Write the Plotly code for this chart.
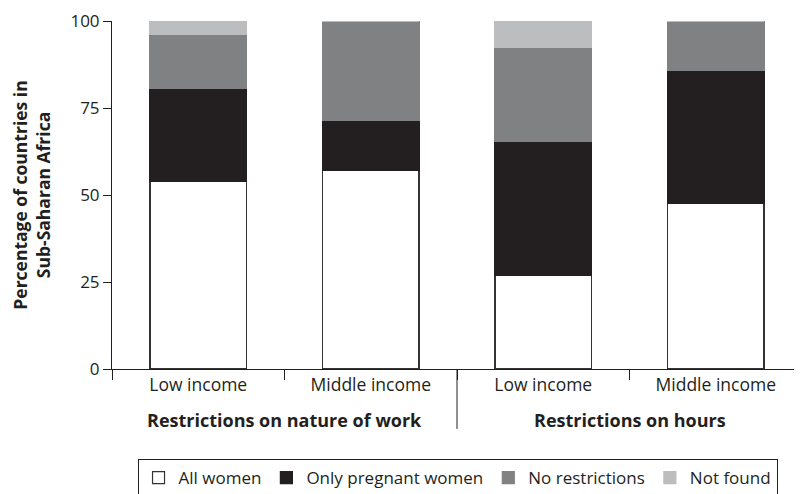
import plotly.graph_objects as go

categories = ["Low income", "Middle income", "Low income ", "Middle income "]
tick_labels = ["Low income", "Middle income", "Low income", "Middle income"]
groups = ["Restrictions on nature of work", "Restrictions on hours"]

all_women = [53.8, 57.1, 26.9, 47.6]
only_pregnant = [26.9, 14.3, 38.5, 38.1]
no_restrictions = [15.4, 28.6, 26.9, 14.3]
not_found = [3.9, 0.0, 7.7, 0.0]

series = [
    ("All women", all_women, "#ffffff", "#333333"),
    ("Only pregnant women", only_pregnant, "#231f20", "#231f20"),
    ("No restrictions", no_restrictions, "#808183", "#808183"),
    ("Not found", not_found, "#bcbdbf", "#bcbdbf"),
]

FONT = "Open Sans"

fig = go.Figure()
for name, vals, color, lcolor in series:
    fig.add_trace(go.Bar(
        x=categories, y=vals, name=name,
        marker=dict(color=color, line=dict(color=lcolor, width=1.2)),
    ))

fig.update_layout(
    barmode="stack",
    bargap=0.44,
    width=794, height=486,
    margin=dict(l=104, r=0, t=13, b=125, autoexpand=False),
    plot_bgcolor="white", paper_bgcolor="white",
    font=dict(family=FONT, size=17, color="#231f20"),
    showlegend=True,
    legend=dict(
        orientation="h", x=0.037, y=-0.259, xanchor="left", yanchor="top",
        bordercolor="#231f20", borderwidth=1,
        font=dict(family=FONT, size=17, color="#231f20"),
        traceorder="normal",
        itemwidth=30,
        tracegroupgap=0,
    ),
    xaxis=dict(
        type="category", automargin=False,
        tickvals=categories, ticktext=tick_labels,
        ticks="outside", tickson="boundaries", ticklen=10, tickcolor="#231f20",
        showline=True, linecolor="#231f20", linewidth=1,
        showgrid=False, zeroline=False,
        tickfont=dict(family=FONT, size=17.5),
    ),
    yaxis=dict(
        range=[0, 100], tickvals=[0, 25, 50, 75, 100], automargin=False,
        ticklabeloverflow="allow",
        ticks="outside", ticklen=8, tickcolor="#231f20",
        showline=True, linecolor="#231f20", linewidth=1,
        showgrid=False, zeroline=False,
        tickfont=dict(family=FONT, size=17),
        title=dict(text="<b>Percentage of countries in<br>Sub-Saharan Africa</b>",
                   font=dict(family=FONT, size=17.5), standoff=16),
    ),
)

# group separator
fig.add_shape(type="line", xref="x", yref="paper", x0=1.5, x1=1.5, y0=0, y1=-0.172,
              line=dict(color="#231f20", width=1))

for i, g in enumerate(groups):
    fig.add_annotation(x=0.5 + 2 * i, y=-0.147, xref="x", yref="paper",
                       text=f"<b>{g}</b>", showarrow=False, yanchor="middle",
                       font=dict(family=FONT, size=18, color="#231f20"))

fig.write_html("out.html")
